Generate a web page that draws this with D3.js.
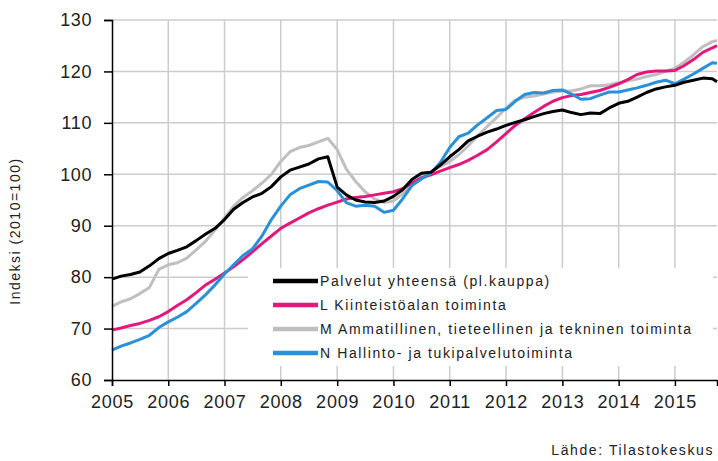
<!DOCTYPE html>
<html>
<head>
<meta charset="utf-8">
<script src="https://cdn.jsdelivr.net/npm/d3@7"></script>
<style>
  body { margin: 0; background: #fff; }
  text { font-family: "Liberation Sans", Arial, sans-serif; }
</style>
</head>
<body>
<div id="chart"></div>
<script>
// Palvelualojen liikevaihto, trendi (2010=100)
const monthIndex = d3.range(0, 129, 2).concat([129]); // months since Jan 2005

const palvelut = [79.6, 80.2, 80.5, 81.0, 82.2, 83.6, 84.6, 85.2, 85.9, 87.1, 88.4, 89.5,
  91.2, 93.2, 94.5, 95.6, 96.3, 97.6, 99.5, 100.8, 101.4, 102.0, 103.0, 103.4,
  97.5, 96.0, 95.0, 94.6, 94.5, 94.8, 95.7, 97.0, 99.0, 100.2, 100.4, 101.8,
  103.4, 104.8, 106.5, 107.4, 108.2, 108.8, 109.5, 110.1, 110.6, 111.2, 111.8, 112.2,
  112.5, 112.0, 111.6, 111.9, 111.8, 112.9, 113.8, 114.2, 115.0, 115.9, 116.6, 117.0,
  117.3, 117.9, 118.3, 118.7, 118.6, 118.0];

const kiinteisto = [69.7, 70.1, 70.6, 71.0, 71.6, 72.3, 73.3, 74.5, 75.6, 77.0, 78.5, 79.6,
  80.8, 82.0, 83.4, 84.9, 86.5, 88.0, 89.5, 90.5, 91.5, 92.5, 93.3, 94.0,
  94.6, 95.2, 95.5, 95.7, 96.0, 96.3, 96.6, 97.2, 98.3, 99.3, 99.9, 100.6,
  101.3, 101.9, 102.7, 103.7, 104.8, 106.3, 107.9, 109.5, 110.8, 112.0, 113.2, 114.2,
  114.9, 115.3, 115.5, 115.9, 116.3, 116.9, 117.6, 118.4, 119.4, 119.9, 120.1, 120.1,
  120.2, 121.1, 122.3, 123.7, 124.6, 125.0];

const ammatillinen = [74.3, 75.2, 75.8, 76.8, 78.0, 81.5, 82.4, 82.8, 83.7, 85.3, 87.0, 89.2,
  91.5, 93.8, 95.5, 96.8, 98.3, 100.0, 102.5, 104.4, 105.2, 105.6, 106.3, 107.0,
  104.8, 101.0, 98.6, 96.6, 95.2, 94.5, 94.8, 96.2, 98.0, 99.5, 100.4, 101.5,
  102.5, 103.8, 105.5, 107.5, 109.3, 111.0, 112.9, 114.4, 115.0, 115.2, 115.6, 116.0,
  116.2, 116.2, 116.6, 117.2, 117.2, 117.4, 117.8, 118.2, 118.5, 119.0, 119.4, 120.0,
  120.6, 121.8, 123.2, 124.8, 125.8, 126.0];

const hallinto = [65.8, 66.6, 67.2, 67.9, 68.7, 70.2, 71.3, 72.2, 73.3, 74.9, 76.6, 78.5,
  80.6, 82.4, 84.2, 85.5, 88.0, 91.2, 93.8, 96.0, 97.2, 97.9, 98.6, 98.5,
  96.8, 94.5, 93.8, 94.0, 93.8, 92.6, 93.0, 95.2, 97.8, 99.1, 100.2, 102.3,
  105.2, 107.3, 108.0, 109.6, 111.0, 112.4, 112.6, 114.2, 115.5, 115.9, 115.8, 116.3,
  116.4, 115.6, 114.6, 114.7, 115.4, 116.0, 116.0, 116.4, 116.8, 117.3, 117.9, 118.3,
  117.6, 118.5, 119.5, 120.6, 121.7, 121.6];

const seriesNames = [
  'Palvelut yhteensä  (pl.kauppa)',
  'L Kiinteistöalan toiminta',
  'M Ammatillinen, tieteellinen ja tekninen toiminta',
  'N Hallinto- ja tukipalvelutoiminta'
];
const seriesColors = ['#000000', '#e2187b', '#bfbfbf', '#2a90d8'];
const yearTicks = [2005, 2006, 2007, 2008, 2009, 2010, 2011, 2012, 2013, 2014, 2015];
const yTicks = [60, 70, 80, 90, 100, 110, 120, 130];

const allSeries = [palvelut, kiinteisto, ammatillinen, hallinto];
// draw order: grey, pink, blue, black on top
const drawOrder = [2, 1, 3, 0];

const W = 718, H = 461;
const margin = { top: 20, right: 1, bottom: 81, left: 112 };
const width = W - margin.left - margin.right;
const height = H - margin.top - margin.bottom;

const svg = d3.select('#chart').append('svg')
  .attr('width', W)
  .attr('height', H);

const g = svg.append('g')
  .attr('transform', `translate(${margin.left},${margin.top})`);

const toDate = m => new Date(2005, m, 1);

const x = d3.scaleTime()
  .domain([new Date(2005, 0, 1), new Date(2015, 9, 1)])
  .range([0, width]);

const y = d3.scaleLinear()
  .domain([60, 130])
  .range([height, 0]);

// Grid
g.append('g')
  .selectAll('line')
  .data(yTicks.slice(1))
  .enter()
  .append('line')
  .attr('x1', 0)
  .attr('x2', width)
  .attr('y1', d => y(d))
  .attr('y2', d => y(d))
  .attr('stroke', '#cccccc')
  .attr('stroke-width', 1.5);

g.append('g')
  .selectAll('line')
  .data(yearTicks.slice(1))
  .enter()
  .append('line')
  .attr('x1', d => x(new Date(d, 0, 1)))
  .attr('x2', d => x(new Date(d, 0, 1)))
  .attr('y1', 0)
  .attr('y2', height)
  .attr('stroke', '#cccccc')
  .attr('stroke-width', 1.5);

// Lines
const line = d3.line()
  .x((d, i) => x(toDate(monthIndex[i])))
  .y(d => y(d));

drawOrder.forEach(k => {
  g.append('path')
    .datum(allSeries[k])
    .attr('fill', 'none')
    .attr('stroke', seriesColors[k])
    .attr('stroke-width', 3)
    .attr('stroke-linejoin', 'round')
    .attr('d', line);
});

// Legend box (covers grid)
const legend = g.append('g')
  .attr('transform', `translate(${248 - margin.left},${268 - margin.top})`);

legend.append('rect')
  .attr('width', 465)
  .attr('height', 98)
  .attr('fill', '#ffffff');

seriesNames.forEach((name, i) => {
  const row = legend.append('g')
    .attr('transform', `translate(0,${13 + i * 24})`);
  row.append('line')
    .attr('x1', 25)
    .attr('x2', 70)
    .attr('stroke', seriesColors[i])
    .attr('stroke-width', 4.5);
  row.append('text')
    .attr('x', 72)
    .attr('dy', '0.36em')
    .style('font-size', '14px')
    .style('letter-spacing', '1.6px')
    .style('fill', '#222')
    .text(name);
});

// Axes
const yAxis = g.append('g')
  .call(d3.axisLeft(y).tickValues(yTicks).tickSize(8).tickPadding(12));
yAxis.select('.domain').attr('stroke-width', 1.5);
yAxis.selectAll('.tick line').attr('stroke-width', 1.5);
yAxis.selectAll('text')
  .style('font-size', '18px')
  .style('letter-spacing', '0.6px')
  .style('fill', '#222');

const xAxis = g.append('g')
  .attr('transform', `translate(0,${height})`)
  .call(d3.axisBottom(x)
    .tickValues(yearTicks.map(d => new Date(d, 0, 1)))
    .tickFormat(d3.timeFormat('%Y'))
    .tickSizeOuter(0)
    .tickSize(6)
    .tickPadding(9));
xAxis.select('.domain').attr('stroke-width', 1.5);
xAxis.selectAll('.tick line').attr('stroke-width', 1.5);
xAxis.selectAll('text')
  .style('font-size', '18px')
  .style('letter-spacing', '0.8px')
  .style('fill', '#222');

// Axis title
svg.append('text')
  .attr('transform', 'translate(20,231) rotate(-90)')
  .attr('text-anchor', 'middle')
  .style('font-size', '14px')
  .style('letter-spacing', '1.5px')
  .style('fill', '#222')
  .text('Indeksi (2010=100)');

// Source
svg.append('text')
  .attr('x', 714)
  .attr('y', 455)
  .attr('text-anchor', 'end')
  .style('font-size', '14px')
  .style('letter-spacing', '1.6px')
  .style('fill', '#222')
  .text('Lähde: Tilastokeskus');
</script>
</body>
</html>
